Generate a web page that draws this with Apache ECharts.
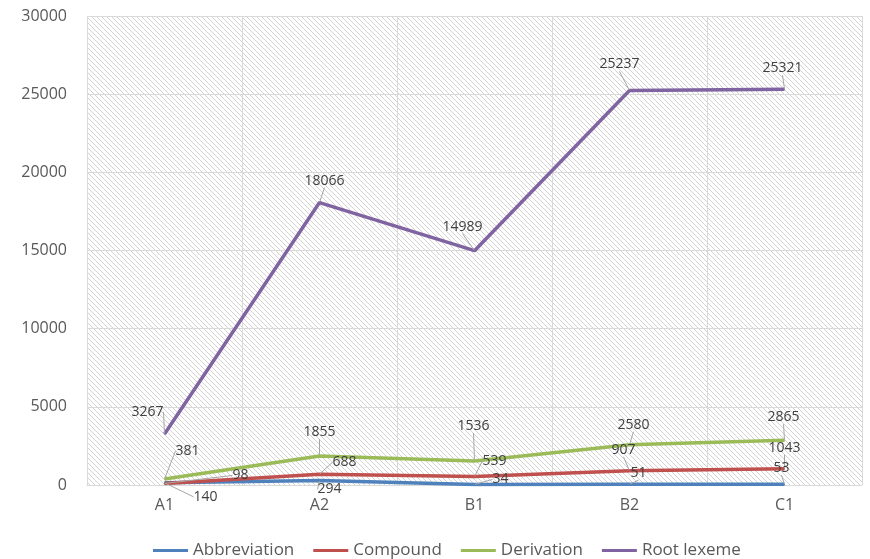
<!DOCTYPE html>
<html>
<head>
<meta charset="utf-8">
<script src="https://cdn.jsdelivr.net/npm/echarts@6/dist/echarts.min.js"></script>
<style>
html,body{margin:0;padding:0;background:#fff;}
#c{width:870px;height:559px;}
</style>
</head>
<body>
<div id="c"></div>
<script>
var categories = ['A1', 'A2', 'B1', 'B2', 'C1'];
var abbreviation = [140, 294, 34, 51, 53];
var compound = [98, 688, 539, 907, 1043];
var derivation = [381, 1855, 1536, 2580, 2865];
var rootLexeme = [3267, 18066, 14989, 25237, 25321];
var seriesNames = ['Abbreviation', 'Compound', 'Derivation', 'Root lexeme'];

// label offsets (dx, dy) from each point, per series (layout only)
var labelOffsets = [
  [[41, 14], [10, 9], [26, -5], [9, -11], [-3, -16]],
  [[76, -8], [25, -12], [20, -16], [-6, -21], [0, -21]],
  [[23, -28], [0, -24], [-1, -35], [4, -20], [-1, -23]],
  [[-17, -22], [5, -22], [-12, -24], [-10, -26], [-2, -21]]
];
var colors = ['#4F81BD', '#C0504D', '#9BBB59', '#8064A2'];

// hatch pattern
var tile = document.createElement('canvas');
var P = 5;
tile.width = P; tile.height = P;
var tctx = tile.getContext('2d');
tctx.fillStyle = '#ffffff';
tctx.fillRect(0, 0, P, P);
tctx.fillStyle = '#d2d2d2';
for (var i = 0; i < P; i++) { tctx.fillRect(i, i, 1, 1); }

var chart = echarts.init(document.getElementById('c'), null, {renderer: 'canvas'});
var dataSets = [abbreviation, compound, derivation, rootLexeme];
var series = dataSets.map(function (d, si) {
  return {
    name: seriesNames[si],
    type: 'line',
    data: d,
    symbol: 'circle',
    symbolSize: 1,
    showSymbol: true,
    lineStyle: {width: 3.5, color: colors[si]},
    itemStyle: {color: colors[si]},
    label: {
      show: true,
      position: 'inside',
      color: '#404040',
      fontFamily: 'Open Sans',
      fontSize: 14
    },
    labelLine: {show: true, lineStyle: {color: '#a6a6a6', width: 1}},
    labelLayout: function (params) {
      var o = labelOffsets[params.seriesIndex][params.dataIndex];
      return {dx: o[0], dy: o[1]};
    },
    emphasis: {disabled: true},
    animation: false
  };
});

chart.setOption({
  animation: false,
  color: colors,
  grid: {
    left: 87, right: 8, top: 16, bottom: 74,
    show: true,
    borderWidth: 0,
    backgroundColor: {image: tile, repeat: 'repeat'}
  },
  legend: {
    data: seriesNames,
    left: 148,
    top: 537,
    icon: 'rect',
    itemWidth: 35,
    itemHeight: 3,
    itemGap: 19,
    textStyle: {color: '#595959', fontFamily: 'Open Sans', fontSize: 17}
  },
  xAxis: {
    type: 'category',
    data: categories,
    boundaryGap: true,
    axisLine: {show: true, lineStyle: {color: '#d9d9d9', width: 1}},
    axisTick: {show: false},
    splitLine: {show: true, lineStyle: {color: '#d9d9d9', width: 1}},
    axisLabel: {color: '#595959', fontFamily: 'Open Sans', fontSize: 16, margin: 12}
  },
  yAxis: {
    type: 'value',
    min: 0, max: 30000, interval: 5000,
    axisLine: {show: false},
    axisTick: {show: false},
    splitLine: {show: true, lineStyle: {color: '#d9d9d9', width: 1}},
    axisLabel: {
      color: '#595959', fontFamily: 'Open Sans', fontSize: 16, margin: 20,
      formatter: function (v) { return String(v); }
    }
  },
  series: series
});
</script>
</body>
</html>
